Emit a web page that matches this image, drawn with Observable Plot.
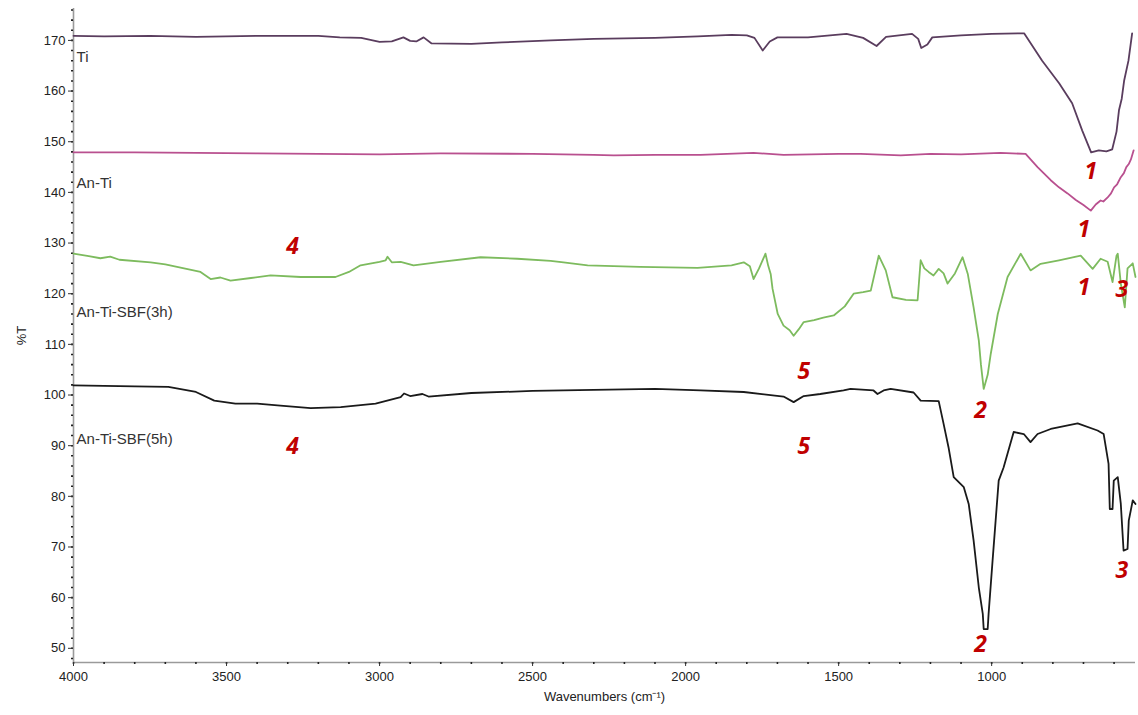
<!DOCTYPE html>
<html>
<head>
<meta charset="utf-8">
<script src="https://cdn.jsdelivr.net/npm/d3@7"></script>
<script src="https://cdn.jsdelivr.net/npm/@observablehq/plot@0.6"></script>
<style>
  html, body { margin: 0; padding: 0; background: #fff; }
  #chart svg { display: block; }
</style>
</head>
<body>
<div id="chart"></div>
<script>
// ---- Data (wavenumber in cm-1, transmittance %T) ----
const tiWave = [4000,3900,3750,3600,3400,3200,3130,3060,3000,2960,2922,2900,2880,2856,2830,2700,2600,2440,2300,2100,1960,1850,1800,1775,1748,1725,1700,1600,1474,1420,1376,1345,1260,1240,1230,1210,1194,1100,1000,894,835,779,737,704,675,650,625,606,592,584,575,567,553,541];
const tiT    = [170.9,170.8,170.9,170.7,170.9,170.9,170.6,170.5,169.7,169.8,170.6,169.9,169.8,170.6,169.4,169.3,169.6,170.0,170.3,170.5,170.8,171.1,171.0,170.5,168.0,169.8,170.6,170.6,171.3,170.5,168.9,170.7,171.3,170.3,168.5,169.2,170.6,171.0,171.3,171.4,166.0,161.5,157.6,152.2,147.9,148.3,148.1,148.5,152.0,156.2,158.5,162.1,166.0,171.4];

const anTiWave = [4000,3800,3600,3400,3200,3000,2800,2500,2300,2235,2100,1951,1778,1680,1500,1428,1297,1200,1100,971,889,850,807,780,752,725,700,676,660,644,635,621,610,600,590,578,568,560,552,545,536];
const anTiT    = [147.9,147.9,147.8,147.7,147.6,147.5,147.7,147.6,147.4,147.3,147.4,147.4,147.8,147.4,147.6,147.6,147.3,147.6,147.5,147.8,147.6,145.0,142.4,141.0,139.8,138.5,137.5,136.4,137.6,138.4,138.2,139.0,139.8,141.0,141.6,143.0,143.8,145.0,145.6,146.5,148.3];

const sbf3Wave = [4000,3950,3912,3880,3850,3748,3700,3585,3552,3520,3487,3420,3356,3258,3144,3100,3062,3000,2980,2974,2960,2931,2889,2800,2670,2550,2441,2399,2320,2150,1961,1850,1810,1790,1778,1760,1739,1730,1722,1716,1699,1680,1660,1647,1630,1614,1580,1550,1516,1480,1451,1420,1395,1369,1346,1324,1280,1242,1232,1220,1206,1190,1173,1157,1144,1120,1095,1078,1059,1042,1035,1026,1013,1003,980,948,905,873,840,780,709,670,644,621,605,592,588,578,565,556,539,530];
const sbf3T    = [127.9,127.4,127.0,127.3,126.7,126.2,125.8,124.3,122.9,123.2,122.6,123.1,123.6,123.3,123.3,124.3,125.6,126.3,126.6,127.3,126.2,126.3,125.6,126.3,127.2,126.9,126.5,126.2,125.6,125.3,125.1,125.6,126.2,125.4,122.9,125.0,127.9,125.5,123.9,121.0,116.0,113.7,112.8,111.7,113.0,114.4,114.8,115.3,115.7,117.5,120.0,120.3,120.6,127.5,124.6,119.3,118.8,118.7,126.6,125.0,124.3,123.6,124.9,124.0,122.0,124.0,127.2,123.9,117.3,110.8,106.0,101.2,104.0,108.1,116.0,123.3,127.9,124.6,125.9,126.6,127.5,124.9,126.9,126.3,122.3,127.5,127.9,122.0,117.3,125.0,126.0,123.3];

const sbf5Wave = [4000,3800,3690,3600,3540,3471,3400,3324,3225,3127,3013,2931,2920,2900,2860,2840,2700,2500,2300,2100,1951,1810,1680,1647,1614,1560,1484,1461,1386,1373,1353,1330,1255,1232,1173,1157,1141,1124,1091,1075,1059,1042,1029,1026,1013,1010,997,987,977,961,928,895,873,850,807,719,654,634,618,614,605,601,588,578,569,556,552,539,530];
const sbf5T    = [101.9,101.7,101.6,100.6,98.9,98.3,98.3,97.9,97.4,97.6,98.3,99.6,100.3,99.8,100.2,99.7,100.4,100.8,101.0,101.2,100.9,100.6,99.7,98.6,99.8,100.2,100.9,101.2,100.9,100.2,100.9,101.2,100.5,98.9,98.8,94.3,89.7,83.8,81.8,78.5,71.3,62.0,56.8,53.8,53.8,56.8,67.3,75.2,83.1,85.7,92.7,92.3,90.7,92.3,93.3,94.4,93.0,92.3,86.4,77.5,77.5,83.1,83.8,78.5,69.3,69.6,75.2,79.2,78.5];

const seriesNames  = ["Ti", "An-Ti", "An-Ti-SBF(3h)", "An-Ti-SBF(5h)"];
const seriesColors = ["#5a3d5e", "#b9508f", "#7dbb5e", "#1a1a1a"];
const seriesLabelT = [166.6, 141.8, 116.3, 91.2];

// band annotations (number, wavenumber, %T)
const bandNums  = ["1", "1", "1", "3", "4", "5", "2", "4", "5", "2", "3"];
const bandWave  = [676, 699, 699, 575, 3284, 1614, 1036, 3284, 1614, 1036, 575];
const bandT     = [144.1, 132.7, 121.2, 120.8, 129.3, 104.6, 96.9, 89.8, 89.8, 50.7, 65.3];

const xMajor = [4000, 3500, 3000, 2500, 2000, 1500, 1000];
const yMajor = [50, 60, 70, 80, 90, 100, 110, 120, 130, 140, 150, 160, 170];

// ---- Build tables ----
const waves = [tiWave, anTiWave, sbf3Wave, sbf5Wave];
const vals  = [tiT, anTiT, sbf3T, sbf5T];
const rows = waves.flatMap((ws, s) => ws.map((w, i) => ({series: seriesNames[s], w, t: vals[s][i]})));
const labels = seriesNames.map((n, i) => ({n, w: 3990, t: seriesLabelT[i]}));
const bands = bandNums.map((n, i) => ({n, w: bandWave[i], t: bandT[i]}));

const X0 = 4000, X1 = 530, Y0 = 47.2, Y1 = 176.3;

const chart = Plot.plot({
  width: 1138,
  height: 715,
  marginLeft: 73,
  marginRight: 3,
  marginTop: 8,
  marginBottom: 53,
  style: {fontFamily: "'Liberation Sans', Arial, sans-serif", background: "#fff"},
  x: {domain: [X0, X1]},
  y: {domain: [Y0, Y1]},
  color: {domain: seriesNames, range: seriesColors},
  marks: [
    // axis lines
    Plot.ruleX([X0], {stroke: "#9a9a9a", strokeWidth: 1.6}),
    Plot.ruleY([Y0], {stroke: "#9a9a9a", strokeWidth: 1.6}),
    // minor ticks
    Plot.axisY({ticks: d3.range(48, 177, 2), tickSize: 2, text: null, label: null, stroke: "#222", strokeWidth: 1.6}),
    Plot.axisX({ticks: d3.range(4000, 529, -100), tickSize: 2, text: null, label: null, stroke: "#222", strokeWidth: 1.6}),
    // major ticks + labels
    Plot.axisY({ticks: yMajor, tickSize: 5, tickPadding: 3, fontSize: 13, fill: "#222", stroke: "#333",
      label: "%T", labelAnchor: "center", labelArrow: "none", labelOffset: 57}),
    Plot.axisX({ticks: xMajor, tickSize: 4, tickPadding: 5, fontSize: 13, fill: "#222", stroke: "#333", tickFormat: "d",
      label: "Wavenumbers (cm⁻¹)", labelAnchor: "center", labelArrow: "none", labelOffset: 38}),
    // spectra
    Plot.line(rows, {x: "w", y: "t", z: "series", stroke: "series", strokeWidth: 1.8, strokeLinejoin: "round"}),
    // series labels
    Plot.text(labels, {x: "w", y: "t", text: "n", textAnchor: "start", fontSize: 15, fill: "#333"}),
    // band numbers
    Plot.text(bands, {x: "w", y: "t", text: "n", fontSize: 23, fontWeight: "bold", fontStyle: "italic",
      fill: "#c00000", fontFamily: "'Open Sans', 'Liberation Sans', sans-serif"})
  ]
});
document.getElementById("chart").appendChild(chart);
</script>
</body>
</html>
